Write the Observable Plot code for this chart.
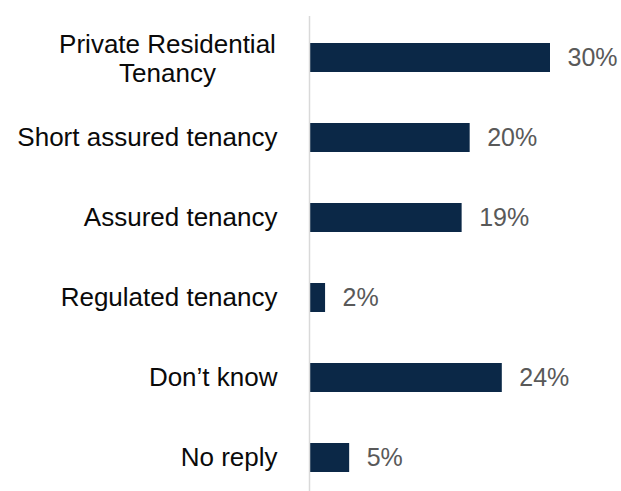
<!DOCTYPE html>
<html>
<head>
<meta charset="utf-8">
<script src="https://cdn.jsdelivr.net/npm/d3@7"></script>
<script src="https://cdn.jsdelivr.net/npm/@observablehq/plot@0.6"></script>
<style>
  html, body { margin: 0; padding: 0; background: #fff; }
  svg { display: block; }
</style>
</head>
<body>
<div id="chart"></div>
<script>
const categories = ["Private Residential\nTenancy", "Short assured tenancy", "Assured tenancy", "Regulated tenancy", "Don\u2019t know", "No reply"];
const values = [30, 20, 19, 2, 24, 5];

const data = categories.map((c, i) => ({category: c, value: values[i]}));
const font = "'Liberation Sans', Arial, sans-serif";

const chart = Plot.plot({
  width: 621,
  height: 491,
  marginTop: 16,
  marginBottom: 0,
  marginLeft: 309,
  marginRight: 0,
  style: {fontFamily: font, background: "#fff"},
  x: {domain: [0, 30], range: [309, 550], axis: null},
  y: {domain: categories, range: [15.7, 499.9], paddingInner: 0.64, paddingOuter: 0.32, label: null},
  marks: [
    Plot.barX(data, {x: "value", y: "category", fill: "#0b2847"}),
    Plot.ruleX([0], {stroke: "#d9d9d9", strokeWidth: 1.5}),
    Plot.axisY(categories.slice(1), {tickSize: 0, tickPadding: 32, fontSize: 26, fill: "#0a0a0a", label: null, style: {letterSpacing: "0.25px"}}),
    Plot.axisY(categories.slice(0, 1), {tickSize: 0, tickPadding: 142, textAnchor: "middle", lineHeight: 1.12, fontSize: 26, fill: "#0a0a0a", label: null, style: {letterSpacing: "0.25px"}}),
    Plot.text(data, {x: "value", y: "category", text: d => `${d.value}%`, textAnchor: "start", dx: 17, fontSize: 25, fill: "#595959"})
  ]
});
document.getElementById("chart").appendChild(chart);
</script>
</body>
</html>
